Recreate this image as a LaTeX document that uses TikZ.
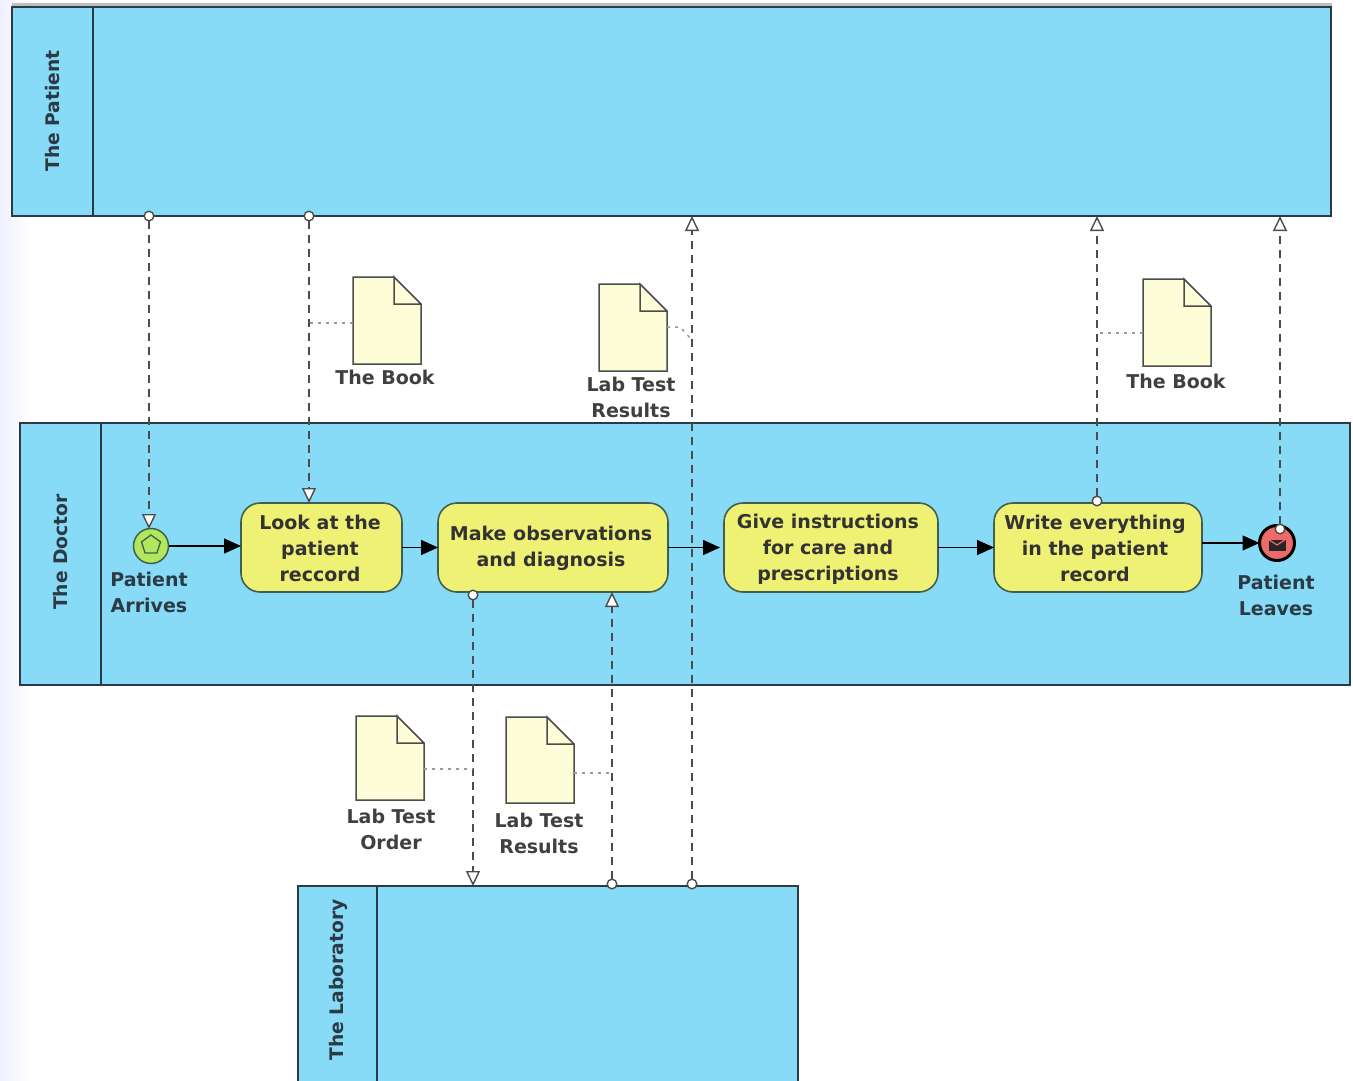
\documentclass[tikz,border=0pt]{standalone}
\usepackage{fontspec}
\setmainfont{DejaVu Sans}
\usetikzlibrary{arrows.meta,shapes.geometric}
\definecolor{poolblue}{HTML}{87DBF6}
\definecolor{taskyellow}{HTML}{EEF173}
\definecolor{docyellow}{HTML}{FDFDD8}
\definecolor{inkdark}{HTML}{2B3A44}
\definecolor{taskedge}{HTML}{3F5F50}
\definecolor{startgreen}{HTML}{B2E65C}
\definecolor{endred}{HTML}{EE6A6A}
\tikzset{
 x=1pt,y=-1pt,
 pool/.style={draw=inkdark,line width=1.5pt,fill=poolblue,rectangle,inner sep=0pt,outer sep=0pt,anchor=north west},
 poolbar/.style={draw=inkdark,line width=1.5pt},
 poollabel/.style={rotate=90,font=\fontsize{18.7}{22}\selectfont\bfseries,text=inkdark},
 task/.style={draw=taskedge,line width=1.6pt,fill=taskyellow,rounded corners=19pt,inner sep=0pt,outer sep=0pt,anchor=north west},
 tasktext/.style={font=\fontsize{19}{26}\selectfont\bfseries,text=black!80,align=center},
 evlabel/.style={font=\fontsize{19}{26}\selectfont\bfseries,text=inkdark,align=center},
 doclabel/.style={font=\fontsize{19}{26}\selectfont\bfseries,text=black!75,align=center},
 seq/.style={draw=black,line width=1.5pt,-{Triangle[length=17pt,width=15pt,fill=black]}},
 msg/.style={draw=black!70,line width=1.4pt,dash pattern=on 8pt off 6pt},
 msgboth/.style={msg,shorten <=-5.5pt,{Circle[open,fill=white,length=11pt,width=11pt]}-{Triangle[open,fill=white,length=15pt,width=14pt]}},
 assoc/.style={draw=black!40,line width=1.5pt,dash pattern=on 3pt off 5pt},
 docbox/.style={rectangle,inner sep=0pt,outer sep=0pt,anchor=north west,fill=docyellow,draw=none},
 docline/.style={draw=black!70,line width=1.5pt,line join=miter},
}
\newcommand{\docshape}[5]{%
 \node[docbox,minimum width=#4pt,minimum height=#5pt] (#1) at (#2,#3) {};
 \fill[white] ([xshift=-27pt]#1.north east) -- (#1.north east) -- ([yshift=-27pt]#1.north east) -- cycle;
 \draw[docline] ([xshift=-27pt]#1.north east) -- (#1.north west) -- (#1.south west) -- (#1.south east) -- ([yshift=-27pt]#1.north east) -- ([xshift=-27pt]#1.north east) -- ([xshift=-27pt,yshift=-27pt]#1.north east) -- ([yshift=-27pt]#1.north east);
}
\begin{document}
\begin{tikzpicture}
\useasboundingbox (0,0) rectangle (1353,1081);
\fill[white] (0,0) rectangle (1353,1081);
\shade[left color=black!3!blue!6!white,right color=white,shading angle=90,draw=none] (0,0) rectangle (30,1081);
\fill[black!25] (12,3) rectangle (1332,6);

% pools
\node[pool,minimum width=1319pt,minimum height=209pt] (patientpool) at (12,7) {};
\draw[poolbar] (93,7) -- (93,216);
\node[poollabel] (patientlabel) at (53,111) {The Patient};

\node[pool,minimum width=1330pt,minimum height=262pt] (doctorpool) at (20,423) {};
\draw[poolbar] (101,423) -- (101,685);
\node[poollabel] (doctorlabel) at (61,552) {The Doctor};

\node[pool,minimum width=500pt,minimum height=215pt] (labpool) at (298,886) {};
\draw[poolbar] (377,886) -- (377,1081);
\node[poollabel] (lablabel) at (338,980) {The Laboratory};

% tasks
\node[task,minimum width=161pt,minimum height=89pt] (t1) at (241,503) {};
\node[tasktext] (t1text) at (320,548) {Look at the\\patient\\reccord};
\node[task,minimum width=230pt,minimum height=89pt] (t2) at (438,503) {};
\node[tasktext] (t2text) at (551,548) {Make observations\\and diagnosis};
\node[task,minimum width=214pt,minimum height=89pt] (t3) at (724,503) {};
\node[tasktext] (t3text) at (828,549) {Give instructions\\for care and\\prescriptions};
\node[task,minimum width=208pt,minimum height=89pt] (t4) at (994,503) {};
\node[tasktext] (t4text) at (1095,548) {Write everything\\in the patient\\record};

% events
\node[circle,draw=taskedge,line width=1.5pt,fill=startgreen,minimum size=35pt,inner sep=0pt,outer sep=0pt] (start) at (151,546) {};
\node[regular polygon,regular polygon sides=5,draw=taskedge,line width=1.3pt,minimum size=20pt,inner sep=0pt] (startpent) at (151,545) {};
\node[evlabel] (startlabel) at (149,592) {Patient\\Arrives};
\node[circle,draw=black,line width=3pt,fill=endred,minimum size=35pt,inner sep=0pt,outer sep=0pt] (endev) at (1277,543) {};
\node[rectangle,fill=black!85,minimum width=17pt,minimum height=11pt,inner sep=0pt] (endmail) at (1277,545) {};
\draw[endred,line width=1.2pt] (endmail.north west) -- (endmail.center) -- (endmail.north east);
\node[evlabel] (endlabel) at (1276,595) {Patient\\Leaves};

% sequence flows
\draw[seq] (start.east) -- (t1.west |- start.east);
\draw[seq] (t1.east |- t1.center) -- (t2.west |- t1.center);
\draw[seq] (t2.east |- t2.center) -- ([xshift=-4pt]t3.west |- t2.center);
\draw[seq] (t3.east |- t3.center) -- (t4.west |- t3.center);
\draw[seq] (t4.east |- endev.center) -- (endev.west);

% message flow anchors
\coordinate (pa) at (149,216);
\coordinate (pb) at (309,216);
\coordinate (pc) at (692,216);
\coordinate (pd) at (1097,216);
\coordinate (pe) at (1280,216);
\coordinate (ea) at (149,529);
\coordinate (eb) at (309,503);
\coordinate (ec) at (692,884);
\coordinate (ed) at (1097,501);
\coordinate (ee) at (1280,529);
\coordinate (ta) at (473,595);
\coordinate (la) at (473,886);
\coordinate (lb) at (612,884);
\coordinate (tb) at (612,592);

\draw[msgboth] (pa) -- (ea);
\draw[msgboth] (pb) -- (eb);
\draw[msgboth] (ec) -- (pc);
\draw[msgboth] (ed) -- (pd);
\draw[msgboth] (ee) -- (pe);
\draw[msgboth] (ta) -- (la);
\draw[msgboth] (lb) -- (tb);

% documents
\docshape{d1}{353}{277}{68}{87}
\node[doclabel] (d1label) at (385,377) {The Book};
\docshape{d2}{599}{284}{68}{87}
\node[doclabel] (d2label) at (631,397) {Lab Test\\Results};
\docshape{d3}{1143}{279}{68}{87}
\node[doclabel] (d3label) at (1176,381) {The Book};
\docshape{d4}{356}{716}{68}{84}
\node[doclabel] (d4label) at (391,829) {Lab Test\\Order};
\docshape{d5}{506}{717}{68}{86}
\node[doclabel] (d5label) at (539,833) {Lab Test\\Results};

% associations
\coordinate (aa) at (309,323);
\coordinate (ab) at (692,340);
\coordinate (ac) at (1097,333);
\coordinate (ad) at (473,769);
\coordinate (ae) at (612,773);
\coordinate (af) at (680,327);
\draw[assoc] (d1.west |- aa) -- (aa);
\draw[assoc] (d2.east |- af) -- (af) -- (ab);
\draw[assoc] (d3.west |- ac) -- (ac);
\draw[assoc] (d4.east |- ad) -- (ad);
\draw[assoc] (d5.east |- ae) -- (ae);
\end{tikzpicture}
\end{document}
